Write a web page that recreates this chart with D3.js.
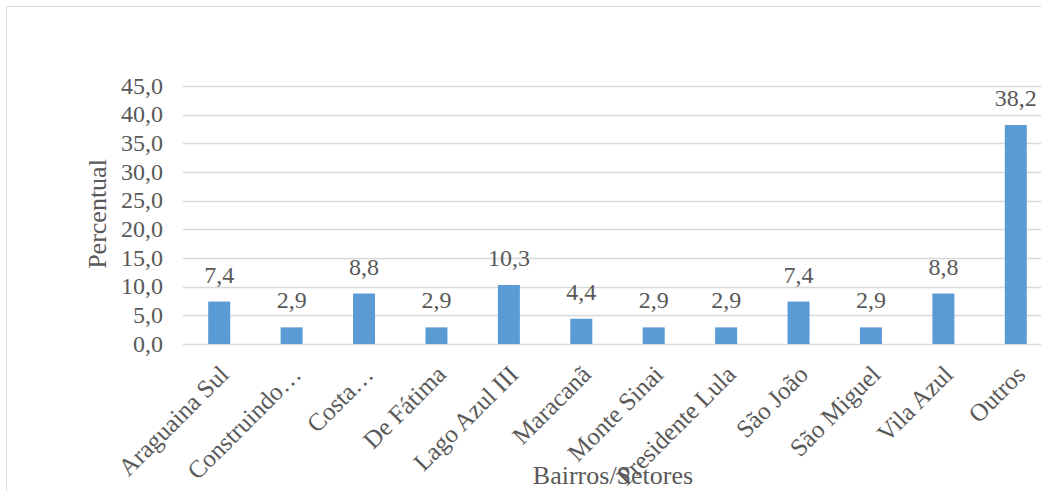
<!DOCTYPE html>
<html><head><meta charset="utf-8">
<script src="https://cdn.jsdelivr.net/npm/d3@7"></script>
</head><body style="margin:0;background:#fff">
<svg id="c" width="1041" height="491" style="display:block"></svg>
<script>
const categories=["Araguaina Sul","Construindo…","Costa…","De Fátima","Lago Azul III","Maracanã","Monte Sinai","Presidente Lula","São João","São Miguel","Vila Azul","Outros"];
const values=[7.4,2.9,8.8,2.9,10.3,4.4,2.9,2.9,7.4,2.9,8.8,38.2];
const yTicks=[0,5,10,15,20,25,30,35,40,45];
const FONT="Liberation Serif";
const TXT="#595959";
const fmt=v=>v.toFixed(1).replace(".",",");
const svg=d3.select("#c");
svg.append("rect").attr("x",6.5).attr("y",6.5).attr("width",1100).attr("height",520).attr("fill","none").attr("stroke","#d9d9d9");
const x=d3.scaleBand().domain(categories).range([183,1052]).paddingInner(0.7).paddingOuter(0.35);
const y=d3.scaleLinear().domain([0,45]).range([344,86]);
const g=svg.append("g");
g.selectAll("line.grid").data(yTicks).join("line").attr("x1",183).attr("x2",1052)
 .attr("y1",d=>Math.round(y(d))+0.5).attr("y2",d=>Math.round(y(d))+0.5).attr("stroke","#d9d9d9").attr("stroke-width",1.3);
const ya=svg.append("g").attr("transform","translate(173,0)").call(d3.axisLeft(y).tickValues(yTicks).tickFormat(fmt).tickSize(0).tickPadding(10));
ya.select(".domain").remove();
ya.attr("font-family",FONT).attr("font-size",24);
ya.selectAll("text").attr("fill",TXT).attr("font-family",FONT).attr("font-size",24).attr("dy","0.3em");
g.selectAll("rect.bar").data(values).join("rect").attr("x",(d,i)=>x(categories[i])+(x.bandwidth()-22)/2).attr("width",22)
 .attr("y",d=>y(d)).attr("height",d=>y(0)-y(d)).attr("fill","#5b9bd5");
g.selectAll("text.lbl").data(values).join("text").attr("x",(d,i)=>x(categories[i])+x.bandwidth()/2).attr("y",d=>y(d)-19)
 .attr("text-anchor","middle").attr("font-family",FONT).attr("font-size",24).attr("fill",TXT).text(fmt);
const xa=svg.append("g").attr("transform","translate(0,344)").call(d3.axisBottom(x).tickSize(0).tickPadding(0));
xa.select(".domain").remove();
xa.attr("font-family",FONT).attr("font-size",24);
xa.selectAll("text").attr("text-anchor","end").attr("dy",null).attr("y",0)
 .attr("transform","translate(11,32) rotate(-45)").attr("font-family",FONT).attr("font-size",25).attr("fill",TXT);
svg.append("text").attr("transform","translate(106,214) rotate(-90)").attr("text-anchor","middle").attr("font-family",FONT).attr("font-size",26).attr("fill",TXT).text("Percentual");
svg.append("text").attr("x",613).attr("y",484).attr("text-anchor","middle").attr("font-family",FONT).attr("font-size",26).attr("fill",TXT).text("Bairros/Setores");
</script></body></html>
